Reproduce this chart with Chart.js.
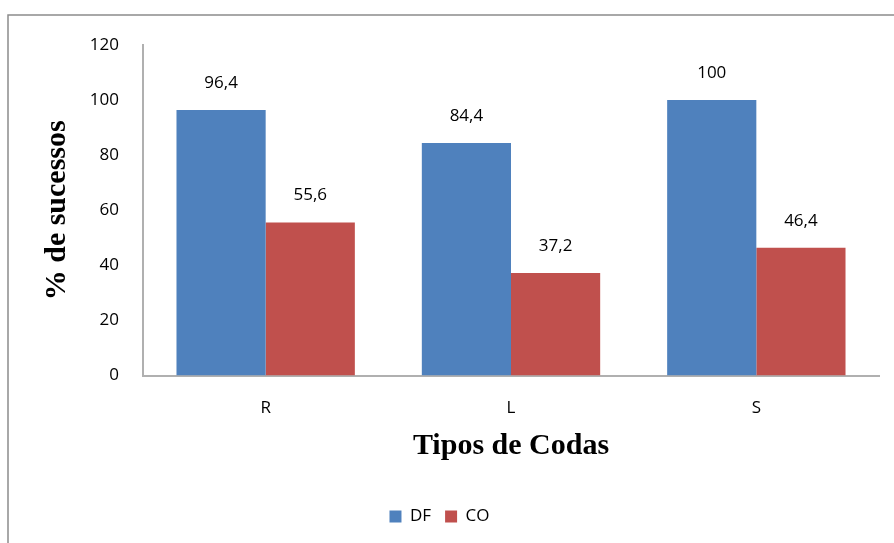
<!DOCTYPE html>
<html>
<head>
<meta charset="utf-8">
<script src="https://cdn.jsdelivr.net/npm/chart.js@4"></script>
<style>
  body { margin: 0; background: #fff; }
  #grafico { display: block; }
</style>
</head>
<body>
<canvas id="grafico" width="894" height="543"></canvas>
<script>
var categorias = ["R", "L", "S"];
var valoresDF = [96.4, 84.4, 100];
var valoresCO = [55.6, 37.2, 46.4];
var nomesSeries = ["DF", "CO"];
var coresSeries = ["#4F81BD", "#C0504D"];

var fonteTexto = "'Open Sans', 'DejaVu Sans', sans-serif";
var fonteTitulo = "'Liberation Serif', 'DejaVu Serif', serif";

// moldura cinza em volta do grafico (so topo e esquerda aparecem)
var moldura = {
    id: "moldura",
    beforeDraw: function (chart) {
        var ctx = chart.ctx;
        ctx.save();
        ctx.strokeStyle = "#8c8c8c";
        ctx.lineWidth = 1.5;
        ctx.strokeRect(8, 15, 1000, 1000);
        ctx.restore();
    }
};

// rotulos com os valores em cima de cada barra
var rotulos = {
    id: "rotulos",
    afterDatasetsDraw: function (chart) {
        var ctx = chart.ctx;
        ctx.save();
        ctx.font = "17px " + fonteTexto;
        ctx.fillStyle = "#000";
        ctx.textAlign = "center";
        ctx.textBaseline = "middle";
        chart.data.datasets.forEach(function (ds, i) {
            chart.getDatasetMeta(i).data.forEach(function (barra, j) {
                var texto = String(ds.data[j]).replace(".", ",");
                ctx.fillText(texto, barra.x, barra.y - 27);
            });
        });
        ctx.restore();
    }
};

new Chart(document.getElementById("grafico").getContext("2d"), {
    type: "bar",
    data: {
        labels: categorias,
        datasets: [{
            label: nomesSeries[0],
            data: valoresDF,
            backgroundColor: coresSeries[0],
            categoryPercentage: 0.727,
            barPercentage: 1
        }, {
            label: nomesSeries[1],
            data: valoresCO,
            backgroundColor: coresSeries[1],
            categoryPercentage: 0.727,
            barPercentage: 1
        }]
    },
    options: {
        responsive: false,
        animation: false,
        layout: { padding: { top: 45, right: 15, left: 0, bottom: 8 } },
        plugins: {
            legend: {
                position: "bottom",
                labels: {
                    boxWidth: 12,
                    boxHeight: 12,
                    padding: 14,
                    color: "#000",
                    font: { family: fonteTexto, size: 17 }
                }
            },
            tooltip: { enabled: false }
        },
        scales: {
            x: {
                grid: { display: false, drawTicks: false },
                border: { color: "#b0b0b0", width: 2 },
                ticks: { color: "#000", padding: 22, font: { family: fonteTexto, size: 17 } },
                title: {
                    display: true,
                    text: "Tipos de Codas",
                    color: "#000",
                    font: { family: fonteTitulo, size: 30, weight: "bold" },
                    padding: { top: -12, bottom: 30 }
                }
            },
            y: {
                min: 0,
                max: 120,
                grid: { display: false, drawTicks: false },
                border: { color: "#b0b0b0", width: 2 },
                ticks: { stepSize: 20, color: "#000", padding: 24, font: { family: fonteTexto, size: 17 } },
                title: {
                    display: true,
                    text: "% de sucessos",
                    color: "#000",
                    font: { family: fonteTitulo, size: 30, weight: "bold" },
                    padding: { top: 39 }
                },
                afterFit: function (escala) { escala.width = 143; }
            }
        }
    },
    plugins: [moldura, rotulos]
});
</script>
</body>
</html>
